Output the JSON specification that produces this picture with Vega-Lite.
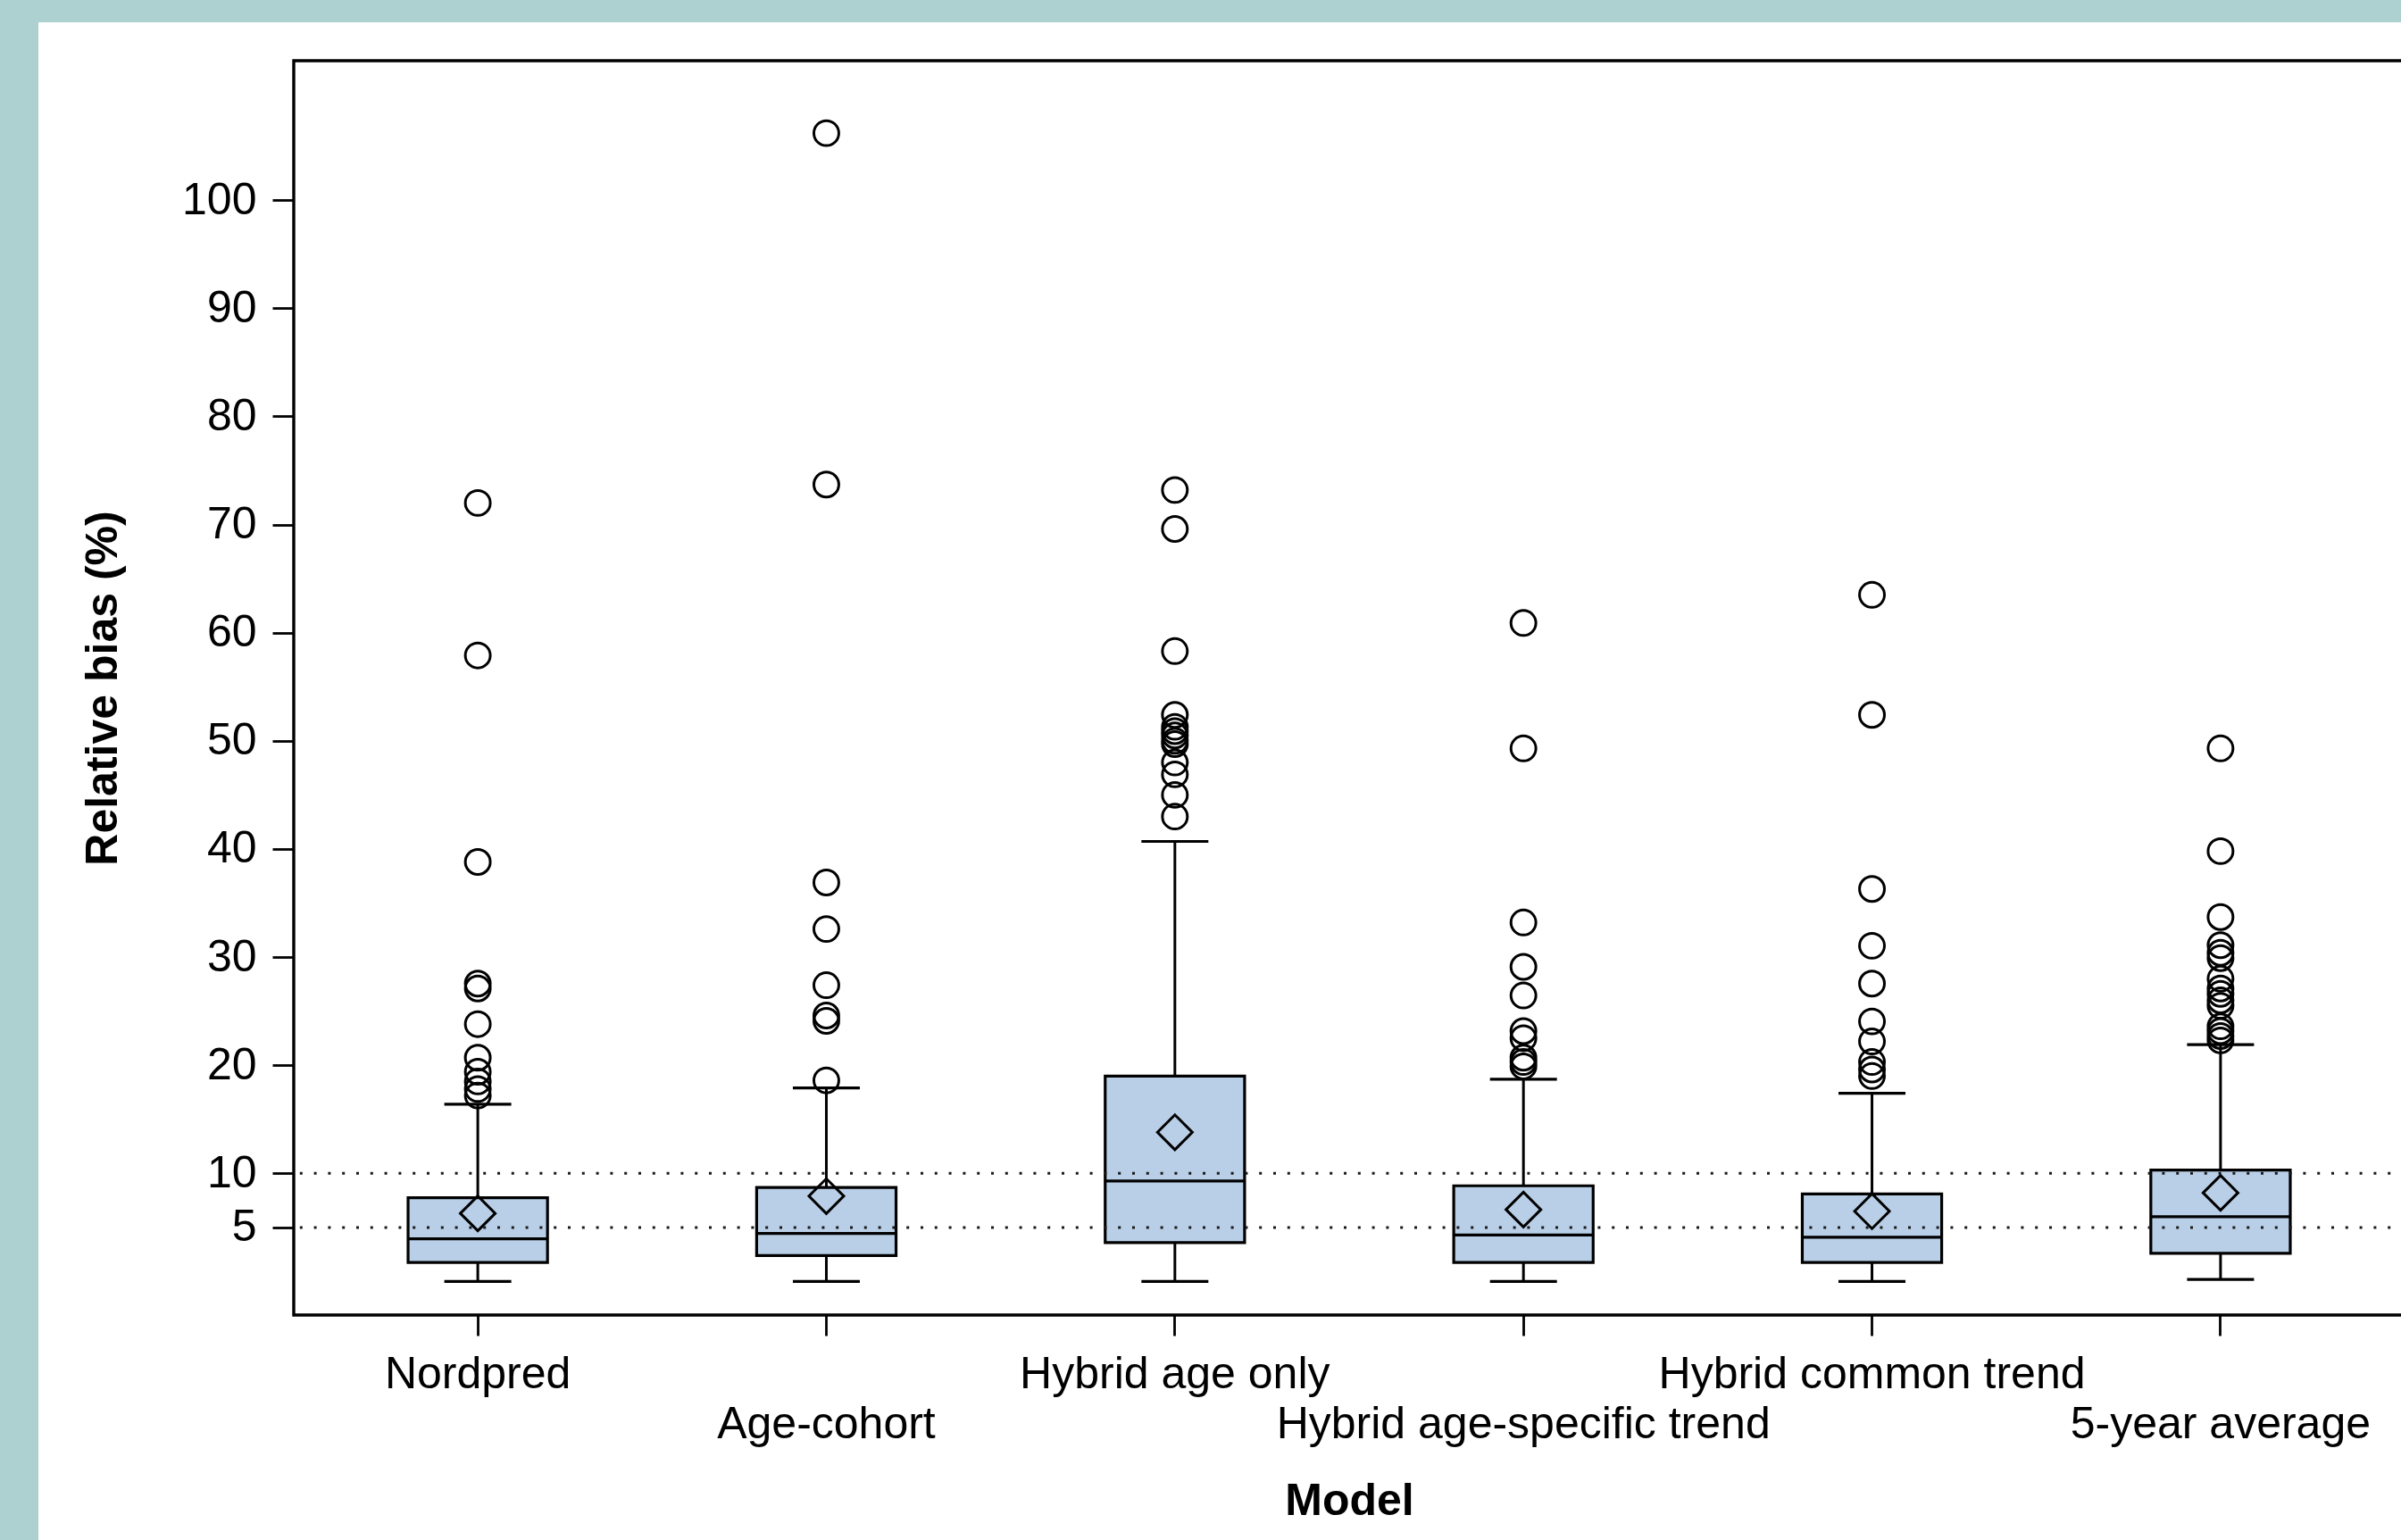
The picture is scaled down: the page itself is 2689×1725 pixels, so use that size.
{
  "$schema": "https://vega.github.io/schema/vega-lite/v6.json",
  "background": "white",
  "padding": 0,
  "spacing": 0,
  "config": {
    "font": "Liberation Sans",
    "view": {"stroke": null},
    "axisX": {
      "labelAngle": 0,
      "domain": false,
      "grid": false,
      "tickSize": 23,
      "tickWidth": 2.8,
      "tickColor": "black",
      "labelFont": "Liberation Sans",
      "labelFontSize": 50,
      "labelColor": "black",
      "labelPadding": 18.5,
      "labelLineHeight": 56,
      "labelLimit": 1000,
      "labelOverlap": false,
      "labelBound": false,
      "labelFlush": false,
      "titleFont": "Liberation Sans",
      "titleFontSize": 50,
      "titleFontWeight": "bold",
      "titleColor": "black",
      "titlePadding": 36
    },
    "axisY": {
      "grid": false,
      "domain": false,
      "tickSize": 24,
      "tickWidth": 2.8,
      "tickColor": "black",
      "labelFont": "Liberation Sans",
      "labelFontSize": 50,
      "labelColor": "black",
      "labelPadding": 18,
      "labelOverlap": false,
      "titleFont": "Liberation Sans",
      "titleFontSize": 50,
      "titleFontWeight": "bold",
      "titleColor": "black",
      "titlePadding": 63
    }
  },
  "datasets": {
    "boxstats": [
      {"model": "Nordpred", "lower": 0, "q1": 1.76, "median": 3.95, "q3": 7.75, "upper": 16.4, "mean": 6.3},
      {"model": "Age-cohort", "lower": 0, "q1": 2.4, "median": 4.45, "q3": 8.7, "upper": 17.9, "mean": 7.9},
      {"model": "Hybrid age only", "lower": 0, "q1": 3.6, "median": 9.3, "q3": 19.0, "upper": 40.7, "mean": 13.8},
      {"model": "Hybrid age-specific trend", "lower": 0, "q1": 1.76, "median": 4.3, "q3": 8.85, "upper": 18.7, "mean": 6.65},
      {"model": "Hybrid common trend", "lower": 0, "q1": 1.76, "median": 4.1, "q3": 8.1, "upper": 17.4, "mean": 6.5},
      {"model": "5-year average", "lower": 0.2, "q1": 2.6, "median": 6.0, "q3": 10.3, "upper": 21.9, "mean": 8.2}
    ],
    "outliers": [
      {"model": "Nordpred", "bias": 72.0},
      {"model": "Nordpred", "bias": 57.9},
      {"model": "Nordpred", "bias": 38.8},
      {"model": "Nordpred", "bias": 27.55},
      {"model": "Nordpred", "bias": 27.1},
      {"model": "Nordpred", "bias": 23.8},
      {"model": "Nordpred", "bias": 20.7},
      {"model": "Nordpred", "bias": 19.4},
      {"model": "Nordpred", "bias": 18.5},
      {"model": "Nordpred", "bias": 17.8},
      {"model": "Nordpred", "bias": 17.2},
      {"model": "Age-cohort", "bias": 106.2},
      {"model": "Age-cohort", "bias": 73.7},
      {"model": "Age-cohort", "bias": 36.9},
      {"model": "Age-cohort", "bias": 32.6},
      {"model": "Age-cohort", "bias": 27.4},
      {"model": "Age-cohort", "bias": 24.6},
      {"model": "Age-cohort", "bias": 24.1},
      {"model": "Age-cohort", "bias": 18.6},
      {"model": "Hybrid age only", "bias": 73.2},
      {"model": "Hybrid age only", "bias": 69.6},
      {"model": "Hybrid age only", "bias": 58.3},
      {"model": "Hybrid age only", "bias": 52.4},
      {"model": "Hybrid age only", "bias": 51.3},
      {"model": "Hybrid age only", "bias": 50.9},
      {"model": "Hybrid age only", "bias": 50.5},
      {"model": "Hybrid age only", "bias": 50.0},
      {"model": "Hybrid age only", "bias": 49.7},
      {"model": "Hybrid age only", "bias": 48.0},
      {"model": "Hybrid age only", "bias": 46.9},
      {"model": "Hybrid age only", "bias": 45.0},
      {"model": "Hybrid age only", "bias": 43.0},
      {"model": "Hybrid age-specific trend", "bias": 60.9},
      {"model": "Hybrid age-specific trend", "bias": 49.3},
      {"model": "Hybrid age-specific trend", "bias": 33.2},
      {"model": "Hybrid age-specific trend", "bias": 29.1},
      {"model": "Hybrid age-specific trend", "bias": 26.45},
      {"model": "Hybrid age-specific trend", "bias": 23.15},
      {"model": "Hybrid age-specific trend", "bias": 22.5},
      {"model": "Hybrid age-specific trend", "bias": 20.7},
      {"model": "Hybrid age-specific trend", "bias": 20.3},
      {"model": "Hybrid age-specific trend", "bias": 19.9},
      {"model": "Hybrid common trend", "bias": 63.5},
      {"model": "Hybrid common trend", "bias": 52.4},
      {"model": "Hybrid common trend", "bias": 36.3},
      {"model": "Hybrid common trend", "bias": 31.05},
      {"model": "Hybrid common trend", "bias": 27.55},
      {"model": "Hybrid common trend", "bias": 24.05},
      {"model": "Hybrid common trend", "bias": 22.2},
      {"model": "Hybrid common trend", "bias": 20.3},
      {"model": "Hybrid common trend", "bias": 19.6},
      {"model": "Hybrid common trend", "bias": 19.0},
      {"model": "5-year average", "bias": 49.3},
      {"model": "5-year average", "bias": 39.8},
      {"model": "5-year average", "bias": 33.7},
      {"model": "5-year average", "bias": 31.1},
      {"model": "5-year average", "bias": 30.4},
      {"model": "5-year average", "bias": 29.9},
      {"model": "5-year average", "bias": 28.0},
      {"model": "5-year average", "bias": 27.1},
      {"model": "5-year average", "bias": 26.6},
      {"model": "5-year average", "bias": 26.0},
      {"model": "5-year average", "bias": 25.5},
      {"model": "5-year average", "bias": 23.6},
      {"model": "5-year average", "bias": 23.15},
      {"model": "5-year average", "bias": 22.7},
      {"model": "5-year average", "bias": 22.3}
    ],
    "refs": [
      {"ref": 5},
      {"ref": 10}
    ]
  },
  "hconcat": [
    {
      "width": 43, "height": 1725,
      "data": {"values": []},
      "mark": "rect",
      "encoding": {},
      "view": {"fill": "#add1d1", "stroke": null}
    },
    {
      "spacing": 41,
      "vconcat": [
        {
          "width": 2646, "height": 25,
          "data": {"values": []},
          "mark": "rect",
          "encoding": {},
          "view": {"fill": "#add1d1", "stroke": null}
        },
        {
          "spacing": 44,
          "hconcat": [
            {
              "width": 1, "height": 1,
              "data": {"values": []},
              "mark": "rect",
              "encoding": {}
            },
            {
              "width": 2364,
              "height": 1405,
              "view": {"fill": "white", "stroke": "black", "strokeWidth": 3.4},
              "layer": [
                {
                  "data": {"name": "boxstats"},
                  "mark": {"type": "rule", "color": "black", "strokeWidth": 3},
                  "encoding": {
                    "x": {"field": "model", "type": "nominal", "sort": ["Nordpred", "Age-cohort", "Hybrid age only", "Hybrid age-specific trend", "Hybrid common trend", "5-year average"], "scale": {"type": "band", "paddingInner": 0.6, "paddingOuter": 0.328}, "axis": {"title": "Model", "labelExpr": "indexof(['Age-cohort', 'Hybrid age-specific trend', '5-year average'], datum.value) >= 0 ? ['', datum.label] : datum.label"}},
                    "y": {"field": "q3", "type": "quantitative", "scale": {"domain": [-3.1, 112.9], "nice": false, "zero": false}, "axis": {"title": "Relative bias (%)", "values": [5, 10, 20, 30, 40, 50, 60, 70, 80, 90, 100]}},
                    "y2": {"field": "upper"}
                  }
                },
                {
                  "data": {"name": "boxstats"},
                  "mark": {"type": "rule", "color": "black", "strokeWidth": 3},
                  "encoding": {
                    "x": {"field": "model", "type": "nominal", "sort": ["Nordpred", "Age-cohort", "Hybrid age only", "Hybrid age-specific trend", "Hybrid common trend", "5-year average"], "scale": {"type": "band", "paddingInner": 0.6, "paddingOuter": 0.328}, "axis": {"title": "Model", "labelExpr": "indexof(['Age-cohort', 'Hybrid age-specific trend', '5-year average'], datum.value) >= 0 ? ['', datum.label] : datum.label"}},
                    "y": {"field": "lower", "type": "quantitative", "scale": {"domain": [-3.1, 112.9], "nice": false, "zero": false}, "axis": {"title": "Relative bias (%)", "values": [5, 10, 20, 30, 40, 50, 60, 70, 80, 90, 100]}},
                    "y2": {"field": "q1"}
                  }
                },
                {
                  "data": {"name": "boxstats"},
                  "mark": {"type": "bar", "fill": "#b9cfe7", "stroke": "black", "strokeWidth": 3.2},
                  "encoding": {
                    "x": {"field": "model", "type": "nominal", "sort": ["Nordpred", "Age-cohort", "Hybrid age only", "Hybrid age-specific trend", "Hybrid common trend", "5-year average"], "scale": {"type": "band", "paddingInner": 0.6, "paddingOuter": 0.328}, "axis": {"title": "Model", "labelExpr": "indexof(['Age-cohort', 'Hybrid age-specific trend', '5-year average'], datum.value) >= 0 ? ['', datum.label] : datum.label"}},
                    "y": {"field": "q1", "type": "quantitative", "scale": {"domain": [-3.1, 112.9], "nice": false, "zero": false}, "axis": {"title": "Relative bias (%)", "values": [5, 10, 20, 30, 40, 50, 60, 70, 80, 90, 100]}},
                    "y2": {"field": "q3"}
                  }
                },
                {
                  "data": {"name": "boxstats"},
                  "mark": {"type": "tick", "size": 75, "thickness": 3.2, "color": "black", "opacity": 1},
                  "encoding": {
                    "x": {"field": "model", "type": "nominal", "sort": ["Nordpred", "Age-cohort", "Hybrid age only", "Hybrid age-specific trend", "Hybrid common trend", "5-year average"], "scale": {"type": "band", "paddingInner": 0.6, "paddingOuter": 0.328}, "axis": {"title": "Model", "labelExpr": "indexof(['Age-cohort', 'Hybrid age-specific trend', '5-year average'], datum.value) >= 0 ? ['', datum.label] : datum.label"}},
                    "y": {"field": "upper", "type": "quantitative", "scale": {"domain": [-3.1, 112.9], "nice": false, "zero": false}, "axis": {"title": "Relative bias (%)", "values": [5, 10, 20, 30, 40, 50, 60, 70, 80, 90, 100]}}
                  }
                },
                {
                  "data": {"name": "boxstats"},
                  "mark": {"type": "tick", "size": 75, "thickness": 3.2, "color": "black", "opacity": 1},
                  "encoding": {
                    "x": {"field": "model", "type": "nominal", "sort": ["Nordpred", "Age-cohort", "Hybrid age only", "Hybrid age-specific trend", "Hybrid common trend", "5-year average"], "scale": {"type": "band", "paddingInner": 0.6, "paddingOuter": 0.328}, "axis": {"title": "Model", "labelExpr": "indexof(['Age-cohort', 'Hybrid age-specific trend', '5-year average'], datum.value) >= 0 ? ['', datum.label] : datum.label"}},
                    "y": {"field": "lower", "type": "quantitative", "scale": {"domain": [-3.1, 112.9], "nice": false, "zero": false}, "axis": {"title": "Relative bias (%)", "values": [5, 10, 20, 30, 40, 50, 60, 70, 80, 90, 100]}}
                  }
                },
                {
                  "data": {"name": "boxstats"},
                  "mark": {"type": "tick", "size": 156, "thickness": 3.2, "color": "black", "opacity": 1},
                  "encoding": {
                    "x": {"field": "model", "type": "nominal", "sort": ["Nordpred", "Age-cohort", "Hybrid age only", "Hybrid age-specific trend", "Hybrid common trend", "5-year average"], "scale": {"type": "band", "paddingInner": 0.6, "paddingOuter": 0.328}, "axis": {"title": "Model", "labelExpr": "indexof(['Age-cohort', 'Hybrid age-specific trend', '5-year average'], datum.value) >= 0 ? ['', datum.label] : datum.label"}},
                    "y": {"field": "median", "type": "quantitative", "scale": {"domain": [-3.1, 112.9], "nice": false, "zero": false}, "axis": {"title": "Relative bias (%)", "values": [5, 10, 20, 30, 40, 50, 60, 70, 80, 90, 100]}}
                  }
                },
                {
                  "data": {"name": "refs"},
                  "mark": {"type": "rule", "color": "#1a1a1a", "strokeWidth": 3, "strokeDash": [3, 12.8]},
                  "encoding": {
                    "y": {"field": "ref", "type": "quantitative", "scale": {"domain": [-3.1, 112.9], "nice": false, "zero": false}, "axis": {"title": "Relative bias (%)", "values": [5, 10, 20, 30, 40, 50, 60, 70, 80, 90, 100]}}
                  }
                },
                {
                  "data": {"name": "boxstats"},
                  "mark": {"type": "point", "shape": "diamond", "filled": false, "size": 1520, "stroke": "black", "strokeWidth": 3, "opacity": 1},
                  "encoding": {
                    "x": {"field": "model", "type": "nominal", "sort": ["Nordpred", "Age-cohort", "Hybrid age only", "Hybrid age-specific trend", "Hybrid common trend", "5-year average"], "scale": {"type": "band", "paddingInner": 0.6, "paddingOuter": 0.328}, "axis": {"title": "Model", "labelExpr": "indexof(['Age-cohort', 'Hybrid age-specific trend', '5-year average'], datum.value) >= 0 ? ['', datum.label] : datum.label"}},
                    "y": {"field": "mean", "type": "quantitative", "scale": {"domain": [-3.1, 112.9], "nice": false, "zero": false}, "axis": {"title": "Relative bias (%)", "values": [5, 10, 20, 30, 40, 50, 60, 70, 80, 90, 100]}}
                  }
                },
                {
                  "data": {"name": "outliers"},
                  "mark": {"type": "point", "shape": "circle", "filled": false, "size": 780, "stroke": "black", "strokeWidth": 3, "opacity": 1},
                  "encoding": {
                    "x": {"field": "model", "type": "nominal", "sort": ["Nordpred", "Age-cohort", "Hybrid age only", "Hybrid age-specific trend", "Hybrid common trend", "5-year average"], "scale": {"type": "band", "paddingInner": 0.6, "paddingOuter": 0.328}, "axis": {"title": "Model", "labelExpr": "indexof(['Age-cohort', 'Hybrid age-specific trend', '5-year average'], datum.value) >= 0 ? ['', datum.label] : datum.label"}},
                    "y": {"field": "bias", "type": "quantitative", "scale": {"domain": [-3.1, 112.9], "nice": false, "zero": false}, "axis": {"title": "Relative bias (%)", "values": [5, 10, 20, 30, 40, 50, 60, 70, 80, 90, 100]}}
                  }
                }
              ]
            }
          ]
        }
      ]
    }
  ]
}
